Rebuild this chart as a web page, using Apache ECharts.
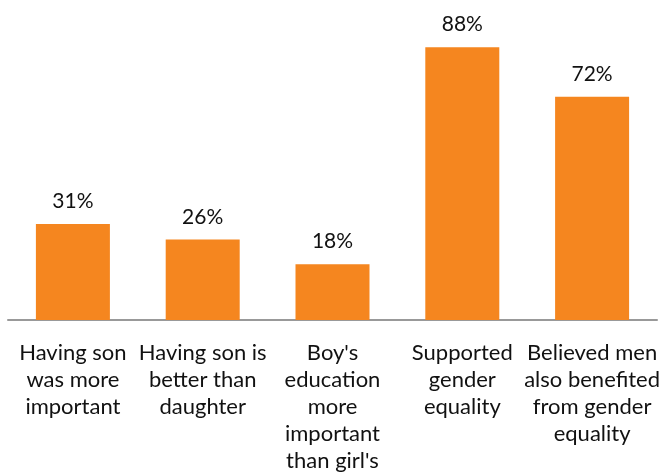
<!DOCTYPE html>
<html>
<head>
<meta charset="utf-8">
<script src="https://cdn.jsdelivr.net/npm/echarts@6/dist/echarts.min.js"></script>
<style>html,body{margin:0;padding:0;background:#fff;}#chart{width:666px;height:474px;}</style>
</head>
<body>
<div id="chart"></div>
<script>
// Survey responses (percent agreeing)
const categories = [
  "Having son\nwas more\nimportant",
  "Having son is\nbetter than\ndaughter",
  "Boy's\neducation\nmore\nimportant\nthan girl's",
  "Supported\ngender\nequality",
  "Believed men\nalso benefited\nfrom gender\nequality"
];
const values = [31, 26, 18, 88, 72];

const chart = echarts.init(document.getElementById('chart'));
chart.setOption({
  animation: false,
  grid: { left: 8, right: 9, top: 10, bottom: 153 },
  xAxis: {
    type: 'category',
    data: categories,
    axisLine: { lineStyle: { color: '#999999', width: 2 } },
    axisTick: { show: false },
    axisLabel: {
      interval: 0,
      color: '#111',
      fontFamily: 'Lato',
      fontSize: 22,
      lineHeight: 27,
      margin: 19
    }
  },
  yAxis: {
    type: 'value', min: 0, max: 100,
    show: false
  },
  series: [{
    type: 'bar',
    data: values,
    barWidth: 74,
    itemStyle: { color: '#F5861F' },
    label: {
      show: true,
      position: 'top',
      distance: 12,
      formatter: '{c}%',
      color: '#111',
      fontFamily: 'Lato',
      fontSize: 21
    }
  }]
});
</script>
</body>
</html>
